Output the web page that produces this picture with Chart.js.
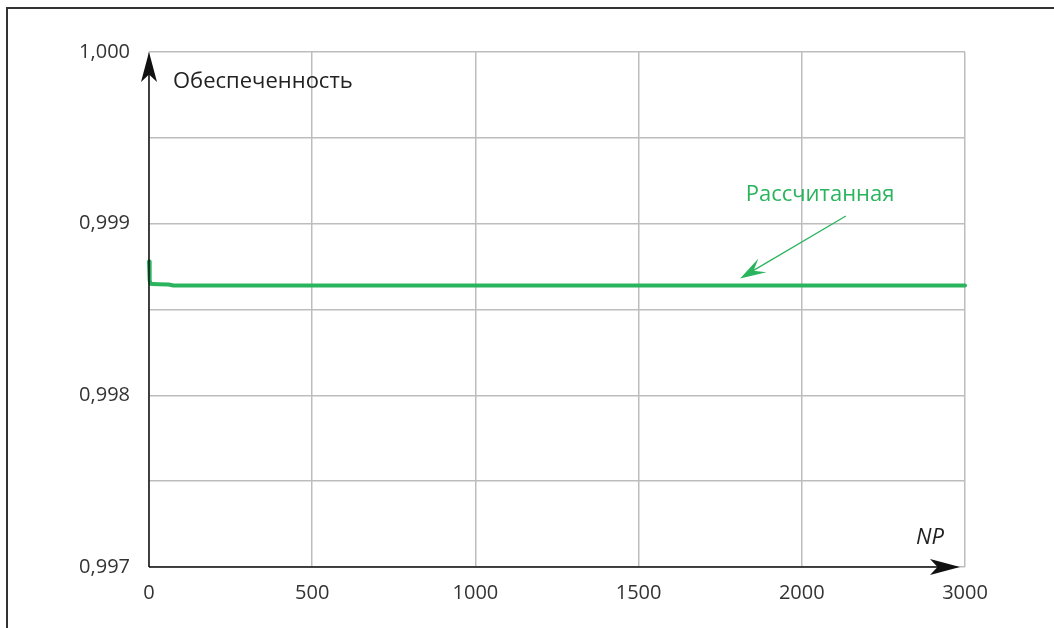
<!DOCTYPE html>
<html><head><meta charset="utf-8">
<script src="https://cdn.jsdelivr.net/npm/chart.js@4"></script>
<style>html,body{margin:0;padding:0;background:#fff}#c{display:block}</style>
</head><body>
<canvas id="c" width="1054" height="628"></canvas>
<script>
// x positions on the axis (units as drawn) and the tick labels printed at them
const npValues = [0, 2, 5, 10, 30, 60, 75, 500, 1000, 1500, 2000, 2500];
const provision = [0.99878, 0.99867, 0.99865, 0.998648, 0.998647, 0.998646, 0.99864, 0.99864, 0.99864, 0.99864, 0.99864, 0.99864];
const xTickPositions = [0, 500, 1000, 1500, 2000, 2500];
const xTickLabels = ['0', '500', '1000', '1500', '2000', '3000'];
const yLabels = ['0,997', '0,998', '0,999', '1,000'];
const seriesName = 'Рассчитанная';
const yTitle = 'Обеспеченность';
const xTitle = 'NP';
const GREEN = 'rgb(42,180,93)';
const FONT = '"Open Sans", "DejaVu Sans", sans-serif';

function arrowHead(ctx, x, y, ang, len, wid, back) {
  ctx.save();
  ctx.translate(x, y); ctx.rotate(ang);
  ctx.beginPath();
  ctx.moveTo(0, 0);
  ctx.lineTo(-len, -wid);
  ctx.lineTo(-len * back, 0);
  ctx.lineTo(-len, wid);
  ctx.closePath();
  ctx.fill();
  ctx.restore();
}

const decor = {
  id: 'decor',
  afterDraw(chart) {
    const ctx = chart.ctx, xs = chart.scales.x, ys = chart.scales.y;
    const x0 = xs.getPixelForValue(0), y0 = ys.getPixelForValue(0.997);
    const xEnd = xs.getPixelForValue(2500), yTop = ys.getPixelForValue(1.0);
    ctx.save();
    // outer frame
    ctx.strokeStyle = '#333'; ctx.lineWidth = 2;
    ctx.beginPath(); ctx.moveTo(7, 628); ctx.lineTo(7, 8); ctx.lineTo(1054, 8); ctx.stroke();
    // axes
    ctx.strokeStyle = '#111'; ctx.lineWidth = 1.5;
    ctx.beginPath(); ctx.moveTo(x0, y0); ctx.lineTo(x0, yTop + 6); ctx.stroke();
    ctx.beginPath(); ctx.moveTo(x0, y0); ctx.lineTo(xEnd - 8, y0); ctx.stroke();
    ctx.fillStyle = '#111';
    arrowHead(ctx, x0, yTop, -Math.PI / 2, 30, 8, 0.75);
    arrowHead(ctx, xEnd - 5, y0, 0, 30, 8, 0.75);
    // titles
    ctx.fillStyle = '#222';
    ctx.font = '22px ' + FONT;
    ctx.textAlign = 'left'; ctx.textBaseline = 'middle';
    ctx.fillText(yTitle, x0 + 24, yTop + 30);
    ctx.font = 'italic 22px ' + FONT;
    ctx.textAlign = 'center';
    ctx.fillText(xTitle, xs.getPixelForValue(2393), ys.getPixelForValue(0.99717));
    // annotation
    ctx.fillStyle = GREEN; ctx.strokeStyle = GREEN;
    ctx.font = '22px ' + FONT;
    ctx.textAlign = 'center';
    ctx.fillText(seriesName, xs.getPixelForValue(2056), ys.getPixelForValue(0.999167));
    const ax1 = xs.getPixelForValue(2135), ay1 = ys.getPixelForValue(0.999045);
    const ax2 = xs.getPixelForValue(1811), ay2 = ys.getPixelForValue(0.998680);
    ctx.lineWidth = 1.3;
    ctx.beginPath(); ctx.moveTo(ax1, ay1); ctx.lineTo(ax2 + 8, ay2 - 5); ctx.stroke();
    arrowHead(ctx, ax2, ay2, Math.atan2(ay2 - ay1, ax2 - ax1), 26, 8, 0.6);
    ctx.restore();
  }
};

new Chart(document.getElementById('c'), {
  type: 'line',
  data: {
    datasets: [{
      label: seriesName,
      data: npValues.map((v, i) => ({ x: v, y: provision[i] })),
      borderColor: GREEN, borderWidth: 4, pointRadius: 0, tension: 0, fill: false,
      borderJoinStyle: 'round', borderCapStyle: 'round', clip: 6
    }]
  },
  options: {
    responsive: false, animation: false,
    layout: { padding: { left: 0, right: 89, top: 52, bottom: 0 } },
    plugins: { legend: { display: false }, tooltip: { enabled: false } },
    scales: {
      x: {
        type: 'linear', min: 0, max: 2500,
        afterBuildTicks: s => { s.ticks = xTickPositions.map(v => ({ value: v })); },
        afterFit: s => { s.height = 61; },
        grid: { color: '#bdbdbd', lineWidth: 1.5, drawTicks: false },
        border: { display: false },
        ticks: { padding: 14, color: '#333', font: { size: 20, family: FONT }, maxRotation: 0,
          callback: (v, i) => xTickLabels[i] }
      },
      y: {
        type: 'linear', min: 0.997, max: 1.0,
        afterBuildTicks: s => { const t = []; for (let i = 0; i <= 6; i++) t.push({ value: 0.997 + i * 0.0005 }); s.ticks = t; },
        afterFit: s => { s.width = 149; },
        grid: { color: '#bdbdbd', lineWidth: 1.5, drawTicks: false },
        border: { display: false },
        ticks: { padding: 19, color: '#333', font: { size: 20, family: FONT },
          callback: (v, i) => (i % 2 === 0 ? yLabels[i / 2] : '') }
      }
    }
  },
  plugins: [decor]
});
</script>
</body></html>
